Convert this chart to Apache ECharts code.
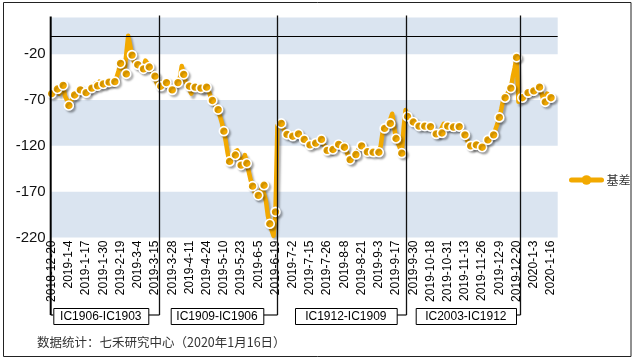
<!DOCTYPE html>
<html><head><meta charset="utf-8">
<script src="https://cdn.jsdelivr.net/npm/echarts@6/dist/echarts.min.js"></script>
<style>html,body{margin:0;padding:0;background:#fff}#c{width:635px;height:360px}</style>
</head><body><div id="c"></div>
<script>
const dates = [
'2018-12-20','2018-12-21','2018-12-24','2018-12-25','2018-12-26','2018-12-27','2018-12-28',
'2019-1-2','2019-1-3','2019-1-4','2019-1-7','2019-1-8','2019-1-9','2019-1-10','2019-1-11','2019-1-14','2019-1-15','2019-1-16','2019-1-17','2019-1-18','2019-1-21','2019-1-22','2019-1-23','2019-1-24','2019-1-25','2019-1-28','2019-1-29','2019-1-30','2019-1-31','2019-2-1',
'2019-2-11','2019-2-12','2019-2-13','2019-2-14','2019-2-15','2019-2-18','2019-2-19','2019-2-20','2019-2-21','2019-2-22','2019-2-25','2019-2-26','2019-2-27','2019-2-28','2019-3-1',
'2019-3-4','2019-3-5','2019-3-6','2019-3-7','2019-3-8','2019-3-11','2019-3-12','2019-3-13','2019-3-14','2019-3-15','2019-3-18','2019-3-19','2019-3-20','2019-3-21','2019-3-22','2019-3-25','2019-3-26','2019-3-27','2019-3-28','2019-3-29',
'2019-4-1','2019-4-2','2019-4-3','2019-4-4','2019-4-8','2019-4-9','2019-4-10','2019-4-11','2019-4-12','2019-4-15','2019-4-16','2019-4-17','2019-4-18','2019-4-19','2019-4-22','2019-4-23','2019-4-24','2019-4-25','2019-4-26','2019-4-29','2019-4-30',
'2019-5-6','2019-5-7','2019-5-8','2019-5-9','2019-5-10','2019-5-13','2019-5-14','2019-5-15','2019-5-16','2019-5-17','2019-5-20','2019-5-21','2019-5-22','2019-5-23','2019-5-24','2019-5-27','2019-5-28','2019-5-29','2019-5-30','2019-5-31',
'2019-6-3','2019-6-4','2019-6-5','2019-6-6','2019-6-10','2019-6-11','2019-6-12','2019-6-13','2019-6-14','2019-6-17','2019-6-18','2019-6-19','2019-6-20','2019-6-21','2019-6-24','2019-6-25','2019-6-26','2019-6-27','2019-6-28',
'2019-7-1','2019-7-2','2019-7-3','2019-7-4','2019-7-5','2019-7-8','2019-7-9','2019-7-10','2019-7-11','2019-7-12','2019-7-15','2019-7-16','2019-7-17','2019-7-18','2019-7-19','2019-7-22','2019-7-23','2019-7-24','2019-7-25','2019-7-26','2019-7-29','2019-7-30','2019-7-31',
'2019-8-1','2019-8-2','2019-8-5','2019-8-6','2019-8-7','2019-8-8','2019-8-9','2019-8-12','2019-8-13','2019-8-14','2019-8-15','2019-8-16','2019-8-19','2019-8-20','2019-8-21','2019-8-22','2019-8-23','2019-8-26','2019-8-27','2019-8-28','2019-8-29','2019-8-30',
'2019-9-2','2019-9-3','2019-9-4','2019-9-5','2019-9-6','2019-9-9','2019-9-10','2019-9-11','2019-9-12','2019-9-16','2019-9-17','2019-9-18','2019-9-19','2019-9-20','2019-9-23','2019-9-24','2019-9-25','2019-9-26','2019-9-27','2019-9-30',
'2019-10-8','2019-10-9','2019-10-10','2019-10-11','2019-10-14','2019-10-15','2019-10-16','2019-10-17','2019-10-18','2019-10-21','2019-10-22','2019-10-23','2019-10-24','2019-10-25','2019-10-28','2019-10-29','2019-10-30','2019-10-31',
'2019-11-1','2019-11-4','2019-11-5','2019-11-6','2019-11-7','2019-11-8','2019-11-11','2019-11-12','2019-11-13','2019-11-14','2019-11-15','2019-11-18','2019-11-19','2019-11-20','2019-11-21','2019-11-22','2019-11-25','2019-11-26','2019-11-27','2019-11-28','2019-11-29',
'2019-12-2','2019-12-3','2019-12-4','2019-12-5','2019-12-6','2019-12-9','2019-12-10','2019-12-11','2019-12-12','2019-12-13','2019-12-16','2019-12-17','2019-12-18','2019-12-19','2019-12-20','2019-12-23','2019-12-24','2019-12-25','2019-12-26','2019-12-27','2019-12-30','2019-12-31',
'2020-1-2','2020-1-3','2020-1-6','2020-1-7','2020-1-8','2020-1-9','2020-1-10','2020-1-13','2020-1-14','2020-1-15','2020-1-16'
];
const basis = [
-63,-60,-61,-58,-63,-60,-54,-66,-70,-76,
-72,-68,-64.5,-62,-60,-59,-57,-60,-62,-60,
-58,-57,-55,-52,-54.5,-50,-53,-52.5,-53,-51,
-50.5,-49,-51,-50,-45,-38,-30,-36,-40,-41.5,
0,-10,-21,-28,-27,-31.5,-35,-37,-36,-27,
-30,-34,-38,-42,-44,-52,-56,-55,-50,-48,
-51,-53,-57,-59,-56,-52,-51,-46,-33,-42,
-50,-54,-55,-63,-55,-56,-55,-58,-57,-60,
-55,-56,-60,-66,-70.5,-74,-77,-80.5,-88,-95,
-104,-115,-128,-137,-135,-128,-130,-125,-133,-141,
-135,-130,-139,-148,-157,-164,-170,-175,-174,-170,
-165,-163,-180,-196,-205,-212,-218,-192,-98,-94,
-95.5,-101,-104,-107.5,-108,-111,-109.5,-108,-105,-107,
-110,-114,-113,-116,-118,-119,-117,-116,-117,-116,
-114,-113,-118,-121,-125,-122,-125,-124,-121,-118,
-118.5,-117,-121,-121.5,-125,-131,-135,-134,-131,-129.5,
-125,-122,-120,-123,-125,-126.5,-127,-126,-127,-126,
-127,-127,-120,-105,-101,-100,-97,-95.5,-85,-100,
-112,-112,-122,-128,-100,-81,-88,-90,-93,-94,
-96,-97,-98.5,-99,-98,-98.5,-99,-98,-99,-103,
-106,-107,-108,-104,-106,-96,-100,-98.5,-100,-101,
-99.5,-100,-98,-99,-102,-104,-108,-113,-118,-120,
-121,-118,-119,-122,-120,-121.5,-118,-116,-113.5,-111,
-109,-108,-102,-96,-89,-80,-70,-67.5,-68,-60,
-57,-45,-35,-23.5,-72,-70,-67.5,-67,-64,-62,
-61,-62,-60,-58,-57,-56,-62,-70,-72,-63,
-66,-67.5
];
const yTickLabels = [-220,-170,-120,-70,-20];
const bands = [[-220,-170],[-120,-70],[-20,20]];
const rollDates = ['2019-3-19','2019-6-20','2019-9-24','2019-12-24'];
const contractLabels = ['IC1906-IC1903','IC1909-IC1906','IC1912-IC1909','IC2003-IC1912'];
const seriesName = '基差';
const footnote = '数据统计：七禾研究中心（2020年1月16日）';

const ORANGE = '#F2A900';
const chart = echarts.init(document.getElementById('c'), null, {renderer:'canvas'});
chart.setOption({
  animation:false,
  backgroundColor:'#fff',
  grid:{left:50.7, right:77.3, top:17.5, bottom:122.5},
  legend:{data:[seriesName], left:564, top:169, itemWidth:30, itemHeight:12,
    lineStyle:{width:5, color:ORANGE},
    itemStyle:{color:ORANGE, borderColor:ORANGE, borderWidth:0},
    textStyle:{fontSize:12, color:'#333', fontFamily:'Noto Sans CJK SC'}},
  xAxis:{type:'category', data:dates.concat(['','','']), boundaryGap:true,
    axisLine:{show:false}, axisTick:{show:false}, splitLine:{show:false},
    axisLabel:{interval:8, rotate:90, margin:3, fontSize:12, color:'#000', fontFamily:'Liberation Sans'}},
  yAxis:{type:'value', min:-220, max:20, interval:10, splitLine:{show:false},
    axisLine:{show:false}, axisTick:{show:false},
    axisLabel:{margin:5, fontSize:15, color:'#111', fontFamily:'Liberation Sans',
      formatter:v => yTickLabels.includes(v) ? String(v) : ''}},
  series:[
    {type:'line', data:[], silent:true, z:1,
     markArea:{silent:true, itemStyle:{color:'#DAE4F0'},
       data:bands.map(b => [{yAxis:b[0]},{yAxis:b[1]}])},
     markLine:{silent:true, symbol:'none', label:{show:false},
       lineStyle:{color:'#000', width:1, type:'solid'}, data:[{yAxis:0}]}},
    {name:seriesName, type:'line', z:3,
     data:basis.map((v,i) => ({value:v, symbol: i % 3 === 0 ? 'circle' : 'none'})),
     symbol:'circle', symbolSize:9, showAllSymbol:true,
     lineStyle:{color:ORANGE, width:4.5, cap:'round', join:'round',
       shadowColor:'rgba(0,0,0,0.3)', shadowBlur:2, shadowOffsetX:2, shadowOffsetY:3},
     itemStyle:{color:ORANGE, borderColor:'#fff', borderWidth:1.6,
       shadowColor:'rgba(0,0,0,0.25)', shadowBlur:2, shadowOffsetX:2, shadowOffsetY:2}}
  ]
});

const px = c => chart.convertToPixel({xAxisIndex:0}, c);
const py = v => chart.convertToPixel({yAxisIndex:0}, v);
const w = px(dates[1]) - px(dates[0]);
const leftX = px(dates[0]) - w/2;
const topY = py(20);
const bracketY = 315;
const boxes = [[53.3,148.3],[170.7,263.3],[295,396.7],[415.7,516]];
const g = [];
g.push({type:'rect', shape:{x:3.5,y:2.5,width:627.5,height:354}, style:{fill:null, stroke:'#222', lineWidth:1}, silent:true, z:0});
g.push({type:'line', shape:{x1:leftX,y1:topY-1,x2:leftX,y2:bracketY}, style:{stroke:'#000', lineWidth:2}, z:10});
g.push({type:'line', shape:{x1:leftX,y1:bracketY,x2:boxes[0][0],y2:bracketY}, style:{stroke:'#000', lineWidth:1.2}, z:10});
rollDates.forEach((d,k) => {
  const x = Math.round(px(d)) + 0.5;
  g.push({type:'line', shape:{x1:x,y1:topY-2,x2:x,y2:bracketY}, style:{stroke:'#111', lineWidth:1.3}, z:10});
  g.push({type:'line', shape:{x1:boxes[k][1],y1:bracketY,x2:x,y2:bracketY}, style:{stroke:'#111', lineWidth:1.2}, z:10});
});
contractLabels.forEach((t,k) => {
  const b = boxes[k];
  g.push({type:'rect', shape:{x:b[0]+0.5, y:308.5, width:b[1]-b[0], height:16},
    style:{fill:'#fff', stroke:'#000', lineWidth:1}, z:11});
  g.push({type:'text', x:(b[0]+b[1])/2, y:317, style:{text:t, fill:'#000', font:'12px "Liberation Sans"', align:'center', verticalAlign:'middle'}, z:12});
});
g.push({type:'text', x:37, y:342, style:{text:footnote, fill:'#333', font:'12.5px "Noto Sans CJK SC"', align:'left', verticalAlign:'middle'}, z:12});
chart.setOption({graphic:g});
</script></body></html>
